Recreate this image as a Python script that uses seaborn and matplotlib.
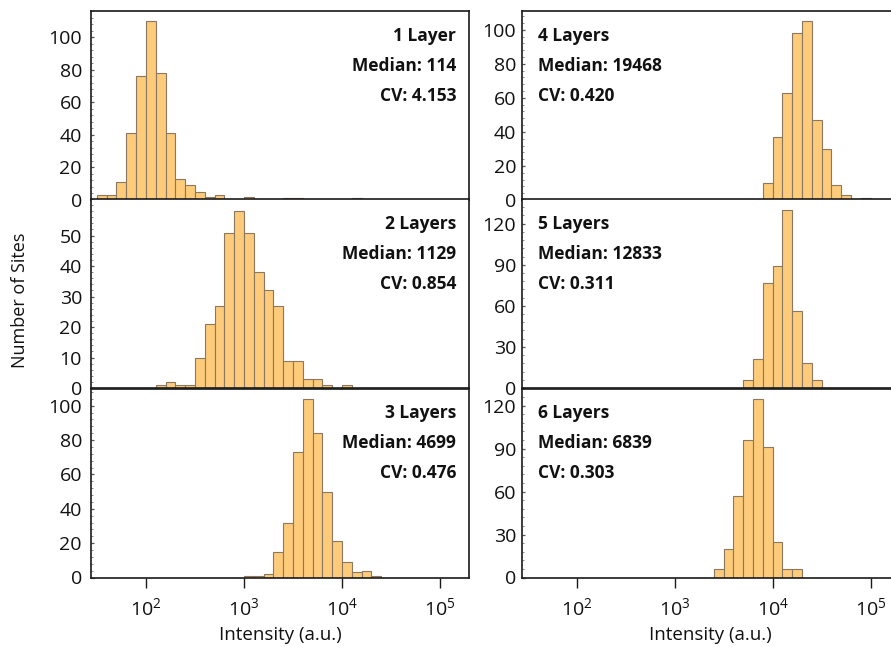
import numpy as np
import pandas as pd
import matplotlib
matplotlib.use("Agg")
import matplotlib.pyplot as plt
import seaborn as sns
from matplotlib.ticker import FixedLocator, AutoMinorLocator, NullLocator

sns.set_theme(style="white")
plt.rcParams["font.family"] = ["Open Sans", "DejaVu Sans"]
plt.rcParams["mathtext.fontset"] = "custom"
plt.rcParams["mathtext.rm"] = "Open Sans"
plt.rcParams["mathtext.it"] = "Open Sans:italic"
plt.rcParams["mathtext.bf"] = "Open Sans:bold"

# ---- data -------------------------------------------------------------
panel_titles = ["1 Layer", "2 Layers", "3 Layers", "4 Layers", "5 Layers", "6 Layers"]
median_values = [114, 1129, 4699, 19468, 12833, 6839]
cv_values = ["4.153", "0.854", "0.476", "0.420", "0.311", "0.303"]

# site counts per 0.1-decade intensity bin; first_bin is log10 of the first bin's left edge
first_bin = [1.5, 2.1, 3.0, 3.9, 3.7, 3.4]
counts_1_layer = [3, 3, 11, 41, 76, 110, 78, 41, 13, 9, 5, 2, 3, 0, 0, 2, 0, 0, 0, 1, 1, 0, 0, 0, 0, 0, 1]
counts_2_layers = [1, 2, 1, 1, 10, 21, 27, 51, 58, 51, 38, 32, 27, 9, 9, 3, 3, 1, 0, 1]
counts_3_layers = [1, 1, 2, 15, 32, 73, 104, 84, 50, 21, 9, 3, 4, 1]
counts_4_layers = [10, 37, 63, 98, 105, 47, 30, 9, 3, 0, 1]
counts_5_layers = [6, 21, 77, 89, 130, 56, 18, 6]
counts_6_layers = [6, 20, 57, 96, 125, 91, 25, 6, 6]

y_limits = [116, 62, 110, 111, 138, 132]
y_major_steps = [20, 10, 20, 20, 30, 30]
y_tick_max = [100, 50, 100, 100, 120, 120]
x_tick_values = [1e2, 1e3, 1e4, 1e5]
x_tick_labels = [r"$10^{2}$", r"$10^{3}$", r"$10^{4}$", r"$10^{5}$"]
BIN_WIDTH = 0.1        # decades
BIN_RANGE = (1.5, 5.0)  # log10 intensity

all_counts = [counts_1_layer, counts_2_layers, counts_3_layers,
              counts_4_layers, counts_5_layers, counts_6_layers]
records = []
for title, start, counts in zip(panel_titles, first_bin, all_counts):
    for i, c in enumerate(counts):
        records.append((title, 10 ** (start + (i + 0.5) * BIN_WIDTH), c))
df = pd.DataFrame(records, columns=["layer", "intensity", "sites"])

# ---- layout (pixel geometry of a 891 x 647 canvas) ---------------------
W, H = 891, 647
fig = plt.figure(figsize=(W / 100, H / 100), dpi=100)

col_left = [91, 521.7]
ax_w = 378
row_top = [11, 199, 388.5]
ax_h = 189

FILL = "#FDCB7A"
EDGE = "#8a7860"
SPINE = "#1a1a1a"
TXT = "#111111"
PX = 0.72  # points per pixel at 100 dpi

for idx, title in enumerate(panel_titles):
    col, row = divmod(idx, 3)
    left = col_left[col] / W
    bottom = 1 - (row_top[row] + ax_h) / H
    ax = fig.add_axes([left, bottom, ax_w / W, ax_h / H])

    sub = df[df["layer"] == title]
    sns.histplot(data=sub, x="intensity", weights="sites", log_scale=True,
                 binwidth=BIN_WIDTH, binrange=BIN_RANGE,
                 color=FILL, edgecolor=EDGE, linewidth=0.8, alpha=1.0, ax=ax)

    ax.set_xlim(10 ** 1.44, 10 ** 5.296)
    ax.set_ylim(0, y_limits[idx])
    ax.set_xlabel("")
    ax.set_ylabel("")

    ax.xaxis.set_major_locator(FixedLocator(x_tick_values))
    ax.xaxis.set_minor_locator(NullLocator())
    if row == 2:
        ax.set_xticklabels(x_tick_labels)
    else:
        ax.set_xticklabels([])
    step = y_major_steps[idx]
    ax.yaxis.set_major_locator(FixedLocator(np.arange(0, y_tick_max[idx] + 1, step)))
    ax.yaxis.set_minor_locator(AutoMinorLocator(5))

    ax.tick_params(axis="x", which="major", direction="out", length=7, width=1.0,
                   color=SPINE, labelsize=14, pad=7, labelcolor=TXT, bottom=True, top=False)
    ax.tick_params(axis="y", which="major", direction="in", length=2.5, width=0.9,
                   color="#555555", labelsize=14, pad=6.5 if col == 0 else 4, labelcolor=TXT,
                   left=True, right=False)
    ax.tick_params(axis="y", which="minor", direction="in", length=1.3, width=0.6,
                   color="#777777", left=True, right=False)

    for sp in ax.spines.values():
        sp.set_visible(True)
        sp.set_color(SPINE)
        sp.set_linewidth(1.2)

    lines = [title, f"Median: {median_values[idx]}", f"CV: {cv_values[idx]}"]
    for k, line in enumerate(lines):
        dy = -(25 + 30 * k) * PX
        if col == 0:
            ax.annotate(line, xy=(1, 1), xycoords="axes fraction",
                        xytext=(-13 * PX, dy), textcoords="offset points",
                        ha="right", va="center", fontsize=12.5, fontweight="bold", color=TXT)
        else:
            ax.annotate(line, xy=(0, 1), xycoords="axes fraction",
                        xytext=(16.5 * PX, dy), textcoords="offset points",
                        ha="left", va="center", fontsize=12.5, fontweight="bold", color=TXT)

fig.text(20 / W, 1 - 300 / H, "Number of Sites", rotation=90, ha="center", va="center",
         fontsize=13, color=TXT)
fig.text(280 / W, 1 - 635 / H, "Intensity (a.u.)", ha="center", va="center",
         fontsize=13.5, color=TXT)
fig.text(710 / W, 1 - 635 / H, "Intensity (a.u.)", ha="center", va="center",
         fontsize=13.5, color=TXT)

fig.savefig("out.png", dpi=100, facecolor="white")
